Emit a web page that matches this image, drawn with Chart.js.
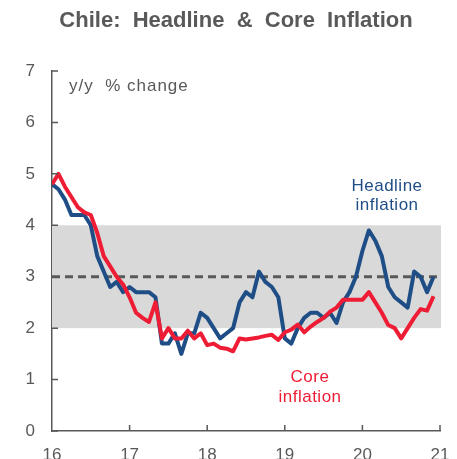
<!DOCTYPE html>
<html>
<head>
<meta charset="utf-8">
<script src="https://cdn.jsdelivr.net/npm/chart.js@4/dist/chart.umd.min.js"></script>
<style>
  html, body { margin: 0; padding: 0; background: #fff; }
  #wrap { width: 457px; height: 459px; }
</style>
</head>
<body>
<div id="wrap"><canvas id="chart" width="457" height="459"></canvas></div>
<script>
// === Data (monthly, Jan 2016 - Dec 2020, y/y %) ===
const yearLabels = ['16', '17', '18', '19', '20', '21'];
const headline = [
  4.8, 4.7, 4.5, 4.2, 4.2, 4.2, 4.0, 3.4, 3.1, 2.8, 2.9, 2.7,
  2.8, 2.7, 2.7, 2.7, 2.6, 1.7, 1.7, 1.9, 1.5, 1.9, 1.9, 2.3,
  2.2, 2.0, 1.8, 1.9, 2.0, 2.5, 2.7, 2.6, 3.1, 2.9, 2.8, 2.6,
  1.8, 1.7, 2.0, 2.2, 2.3, 2.3, 2.2, 2.3, 2.1, 2.5, 2.7, 3.0,
  3.5, 3.9, 3.7, 3.4, 2.8, 2.6, 2.5, 2.4, 3.1, 3.0, 2.7, 3.0
];
const core = [
  4.8, 5.0, 4.75, 4.55, 4.35, 4.25, 4.2, 3.85, 3.4, 3.2, 3.0, 2.85,
  2.6, 2.3, 2.2, 2.12, 2.5, 1.8, 2.0, 1.8, 1.8, 1.95, 1.8, 1.9,
  1.67, 1.7, 1.62, 1.6, 1.55, 1.8, 1.78, 1.8, 1.82, 1.85, 1.87, 1.77,
  1.92, 1.97, 2.07, 1.92, 2.03, 2.12, 2.2, 2.32, 2.4, 2.55, 2.55, 2.55,
  2.55, 2.7, 2.5, 2.3, 2.06, 2.0, 1.8, 2.0, 2.2, 2.37, 2.34, 2.62
];
const targetBand = [2, 4];
const targetMid = 3;

const GREY = '#595959';
const BLUE = '#1F4E86';
const RED = '#EE1C34';
const FONT = '"Liberation Sans", Arial, sans-serif';

const toPoints = arr => arr.map((v, i) => ({ x: i, y: v }));

// === Band, target, inside ticks and text ===
const decor = {
  id: 'decor',
  beforeDatasetsDraw(chart) {
    const { ctx, chartArea: a, scales: { x, y } } = chart;
    ctx.save();
    ctx.fillStyle = '#D9D9D9';
    const yTop = y.getPixelForValue(targetBand[1]);
    const yBot = y.getPixelForValue(targetBand[0]);
    ctx.fillRect(a.left, yTop, a.right - a.left + 1, yBot - yTop);
    ctx.strokeStyle = GREY;
    ctx.lineWidth = 3;
    ctx.setLineDash([8, 5]);
    const ym = y.getPixelForValue(targetMid);
    ctx.beginPath();
    ctx.moveTo(x.getPixelForValue(0), ym);
    ctx.lineTo(x.getPixelForValue(59.6), ym);
    ctx.stroke();
    ctx.restore();
  },
  afterDraw(chart) {
    const { ctx, chartArea: a, scales: { x, y } } = chart;
    ctx.save();
    ctx.strokeStyle = GREY;
    ctx.lineWidth = 1.5;
    ctx.beginPath();
    for (let v = 0; v <= 7; v++) {
      const p = y.getPixelForValue(v);
      ctx.moveTo(a.left, p); ctx.lineTo(a.left + 6, p);
    }
    for (let m = 12; m <= 60; m += 12) {
      const p = x.getPixelForValue(m);
      ctx.moveTo(p, a.bottom); ctx.lineTo(p, a.bottom - 6);
    }
    ctx.stroke();

    ctx.textAlign = 'center';
    ctx.textBaseline = 'middle';
    ctx.fillStyle = GREY;
    ctx.font = 'bold 22px ' + FONT;
    ctx.fillText('Chile:  Headline  &  Core  Inflation', 236, 21);
    ctx.letterSpacing = '1px';
    ctx.font = '17px ' + FONT;
    ctx.textAlign = 'left';
    ctx.fillText('y/y  % change', 69, 86);
    ctx.letterSpacing = '0.5px';
    ctx.textAlign = 'center';
    ctx.fillStyle = BLUE;
    ctx.fillText('Headline', 387, 186);
    ctx.fillText('inflation', 387, 205);
    ctx.fillStyle = RED;
    ctx.fillText('Core', 310, 377);
    ctx.fillText('inflation', 310, 397);
    ctx.restore();
  }
};

new Chart(document.getElementById('chart'), {
  type: 'line',
  data: {
    datasets: [
      { label: 'Core', data: toPoints(core), borderColor: RED, borderWidth: 4, order: 0 },
      { label: 'Headline', data: toPoints(headline), borderColor: BLUE, borderWidth: 4, order: 1 }
    ]
  },
  options: {
    responsive: false,
    animation: false,
    layout: { padding: { top: 71, right: 17, left: 0, bottom: 0 } },
    elements: { point: { radius: 0 }, line: { tension: 0, borderJoinStyle: 'round' } },
    plugins: { legend: { display: false }, tooltip: { enabled: false }, title: { display: false } },
    scales: {
      x: {
        type: 'linear', min: 0, max: 60,
        afterFit: s => { s.height = 28; s.paddingLeft = 0; s.paddingRight = 0; },
        grid: { display: false, drawTicks: false },
        border: { display: true, color: GREY, width: 1.5 },
        ticks: {
          stepSize: 12, padding: 14, color: GREY, maxRotation: 0,
          font: { family: FONT, size: 17 },
          callback: v => yearLabels[v / 12]
        }
      },
      y: {
        min: 0, max: 7,
        afterFit: s => { s.width = 52; s.paddingTop = 0; s.paddingBottom = 0; },
        grid: { display: false, drawTicks: false },
        border: { display: true, color: GREY, width: 1.5 },
        ticks: { stepSize: 1, padding: 17, color: GREY, font: { family: FONT, size: 17 } }
      }
    }
  },
  plugins: [decor]
});
</script>
</body>
</html>
